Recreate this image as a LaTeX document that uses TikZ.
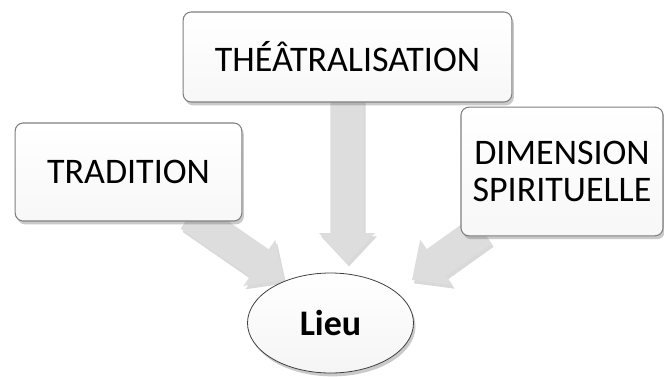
\documentclass[tikz,border=0pt]{standalone}
\usepackage{fontspec}
\setmainfont{Carlito}
\usetikzlibrary{calc,shapes.geometric,shadows}
\definecolor{boxedge}{HTML}{808080}
\definecolor{arrfill}{HTML}{DDDDDD}
\tikzset{
  px/.style={x=0.75pt,y=-0.75pt},
  boxnode/.style={draw=boxedge, line width=0.8pt, rounded corners=6pt,
    top color=white, bottom color=gray!6, align=center,
    font=\fontsize{27}{28}\selectfont,
    drop shadow={shadow xshift=1.5pt, shadow yshift=-2.5pt, opacity=0.35, fill=black!60}},
  lieunode/.style={ellipse, draw=black!75, line width=0.6pt,
    top color=white, bottom color=gray!8,
    font=\fontsize{27}{28}\selectfont\bfseries,
    drop shadow={shadow xshift=1.5pt, shadow yshift=-2.5pt, opacity=0.35, fill=black!60}},
  arrstyle/.style={fill=arrfill, draw=none,
    drop shadow={shadow xshift=1.5pt, shadow yshift=-2.5pt, opacity=0.3, fill=black!50}}
}
\newcommand\blockarr[3]{%
  \coordinate (#3hb) at ($(#2)!22.5pt!(#1)$);
  \fill[arrstyle] ($(#1)!12.4pt!90:(#2)$) -- ($(#3hb)!12.4pt!-90:(#1)$)
    -- ($(#3hb)!21pt!-90:(#1)$) -- (#2) -- ($(#3hb)!21pt!90:(#1)$)
    -- ($(#3hb)!12.4pt!90:(#1)$) -- ($(#1)!12.4pt!-90:(#2)$) -- cycle;}
\begin{document}
\begin{tikzpicture}[px]
\useasboundingbox (0,0) rectangle (664,376);
% arrow anchor coordinates
\coordinate (ls) at (190,215);
\coordinate (lt) at (284,280);
\coordinate (ms) at (347,92);
\coordinate (mt) at (347,263);
\coordinate (rs) at (482,230);
\coordinate (rt) at (412,280);
\blockarr{ls}{lt}{la}
\blockarr{ms}{mt}{ma}
\blockarr{rs}{rt}{ra}
% boxes
\node[boxnode, minimum width=170pt, minimum height=73.5pt] (trad) at (128.5,172) {TRADITION};
\node[boxnode, minimum width=246.5pt, minimum height=67.5pt] (theat) at (347.5,57) {THÉÂTRALISATION};
\node[boxnode, minimum width=151.5pt, minimum height=96.5pt] (dim) at (562,171.5) {DIMENSION\\SPIRITUELLE};
\node[lieunode, minimum width=124.5pt, minimum height=75pt, inner sep=0pt] (lieu) at (330.5,323) {Lieu};
\end{tikzpicture}
\end{document}
